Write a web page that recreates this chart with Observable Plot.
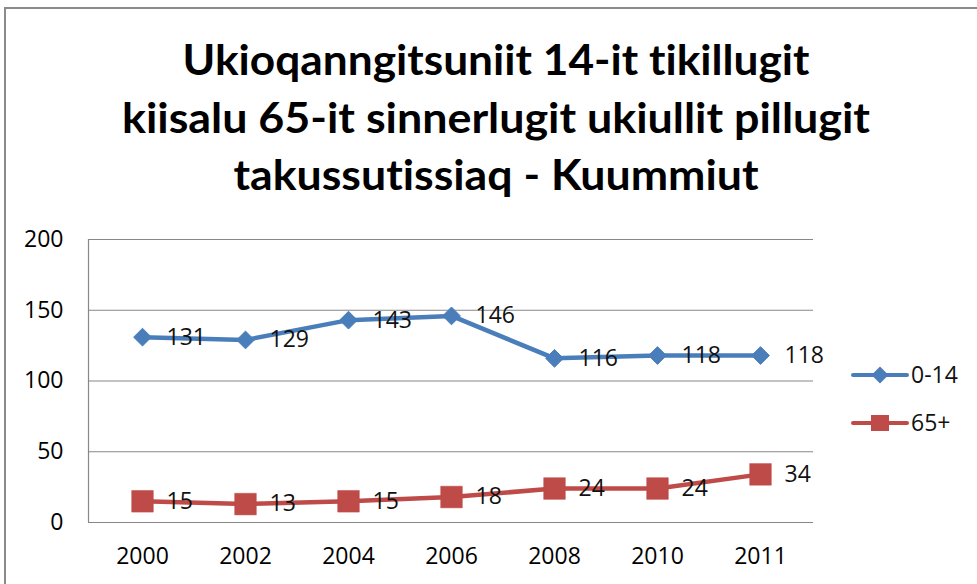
<!DOCTYPE html>
<html>
<head>
<meta charset="utf-8">
<script src="https://cdn.jsdelivr.net/npm/d3@7"></script>
<script src="https://cdn.jsdelivr.net/npm/@observablehq/plot@0.6"></script>
<style>
  html, body { margin: 0; padding: 0; background: #fff; overflow: hidden; }
  #wrap { position: relative; width: 977px; height: 584px; overflow: hidden; }
  #frame { position: absolute; left: 4px; top: 7px; width: 1100px; height: 700px; border: 2px solid #8a8a8a; box-sizing: border-box; pointer-events: none; }
  #title { display: block; font-variant-ligatures: none; font-feature-settings: "liga" 0, "clig" 0, "dlig" 0; }
  #chart svg { display: block; }
  #legend { position: absolute; left: 0; top: 0; pointer-events: none; }
</style>
</head>
<body>
<div id="wrap">
  <div id="frame"></div>
  <svg id="title" width="977" height="220"></svg>
  <div id="chart"></div>
  <svg id="legend" width="977" height="584"></svg>
</div>
<script>
// ---- data ----
const titleLines = [
  "Ukioqanngitsuniit 14-it tikillugit",
  "kiisalu 65-it sinnerlugit ukiullit pillugit",
  "takussutissiaq - Kuummiut"
];
const years = ["2000", "2002", "2004", "2006", "2008", "2010", "2011"];
const values0014 = [131, 129, 143, 146, 116, 118, 118];
const values65 = [15, 13, 15, 18, 24, 24, 34];
const seriesNames = ["0-14", "65+"];
const yTicks = [0, 50, 100, 150, 200];

const blue = "#4a7ebb";
const red = "#be4b48";
const grid = "#878787";
const fs = 23;

const data0014 = years.map((y, i) => ({year: y, value: values0014[i]}));
const data65 = years.map((y, i) => ({year: y, value: values65[i]}));

// ---- title ----
const titleSvg = d3.select("#title");
const titleWidths = [627, 748, 525];
const titleBase = [75, 133, 190];
titleLines.forEach((t, i) => {
  titleSvg.append("text")
    .attr("x", 496).attr("y", titleBase[i])
    .attr("text-anchor", "middle")
    .attr("font-family", "Lato, 'Open Sans', sans-serif")
    .attr("font-weight", "bold")
    .attr("font-size", 42)
    .attr("fill", "#000")
    .style("font-variant-ligatures", "none")
    .attr("textLength", titleWidths[i])
    .attr("lengthAdjust", "spacingAndGlyphs")
    .text(t);
});

// ---- chart ----
const leftLine = (index, scales, values, dims) => {
  const g = d3.create("svg:line")
    .attr("x1", dims.marginLeft + 0.5).attr("x2", dims.marginLeft + 0.5)
    .attr("y1", dims.marginTop).attr("y2", dims.height - dims.marginBottom)
    .attr("stroke", grid).attr("stroke-width", 1.2);
  return g.node();
};

const chart = Plot.plot({
  width: 977,
  height: 364,
  marginLeft: 88,
  marginRight: 164,
  marginTop: 19,
  marginBottom: 62,
  style: {fontFamily: "'Open Sans', sans-serif", fontSize: fs + "px", color: "#000", background: "transparent", overflow: "visible"},
  x: {type: "point", domain: years, padding: 0.5},
  y: {domain: [0, 200]},
  marks: [
    Plot.ruleY(yTicks, {y: d => d, stroke: grid, strokeWidth: 1.2}),
    leftLine,
    Plot.axisY(yTicks, {tickSize: 0, tickPadding: 25, label: null, fontSize: fs, fill: "#000"}),
    Plot.axisX({tickSize: 0, tickPadding: 25, label: null, fontSize: fs, fill: "#000"}),
    Plot.line(data0014, {x: "year", y: "value", stroke: blue, strokeWidth: 4.5}),
    Plot.line(data65, {x: "year", y: "value", stroke: red, strokeWidth: 4.5}),
    Plot.dot(data0014, {x: "year", y: "value", symbol: "diamond2", r: 8, fill: blue, stroke: blue, strokeWidth: 1}),
    Plot.dot(data65, {x: "year", y: "value", symbol: "square", r: 12.2, fill: red, stroke: red, strokeWidth: 0.5}),
    Plot.text(data0014, {x: "year", y: "value", text: d => String(d.value), dx: 24, textAnchor: "start", lineAnchor: "middle", fontSize: fs, fill: "#111"}),
    Plot.text(data65, {x: "year", y: "value", text: d => String(d.value), dx: 24, textAnchor: "start", lineAnchor: "middle", fontSize: fs, fill: "#111"})
  ]
});
document.getElementById("chart").appendChild(chart);

// ---- legend ----
const leg = d3.select("#legend");
const legItems = [
  {name: seriesNames[0], color: blue, y: 375, sym: "diamond"},
  {name: seriesNames[1], color: red, y: 423, sym: "square"}
];
legItems.forEach(it => {
  leg.append("line").attr("x1", 853).attr("x2", 907).attr("y1", it.y).attr("y2", it.y)
    .attr("stroke", it.color).attr("stroke-width", 4).attr("stroke-linecap", "round");
  if (it.sym === "diamond") {
    leg.append("path").attr("d", `M880,${it.y - 8.5}L888.5,${it.y}L880,${it.y + 8.5}L871.5,${it.y}Z`).attr("fill", it.color);
  } else {
    leg.append("rect").attr("x", 871).attr("y", it.y - 8).attr("width", 18).attr("height", 16).attr("fill", it.color);
  }
  leg.append("text").attr("x", 911).attr("y", it.y).attr("dy", "0.35em")
    .attr("font-family", "'Open Sans', sans-serif").attr("font-size", fs).attr("fill", "#111")
    .text(it.name);
});
</script>
</body>
</html>
